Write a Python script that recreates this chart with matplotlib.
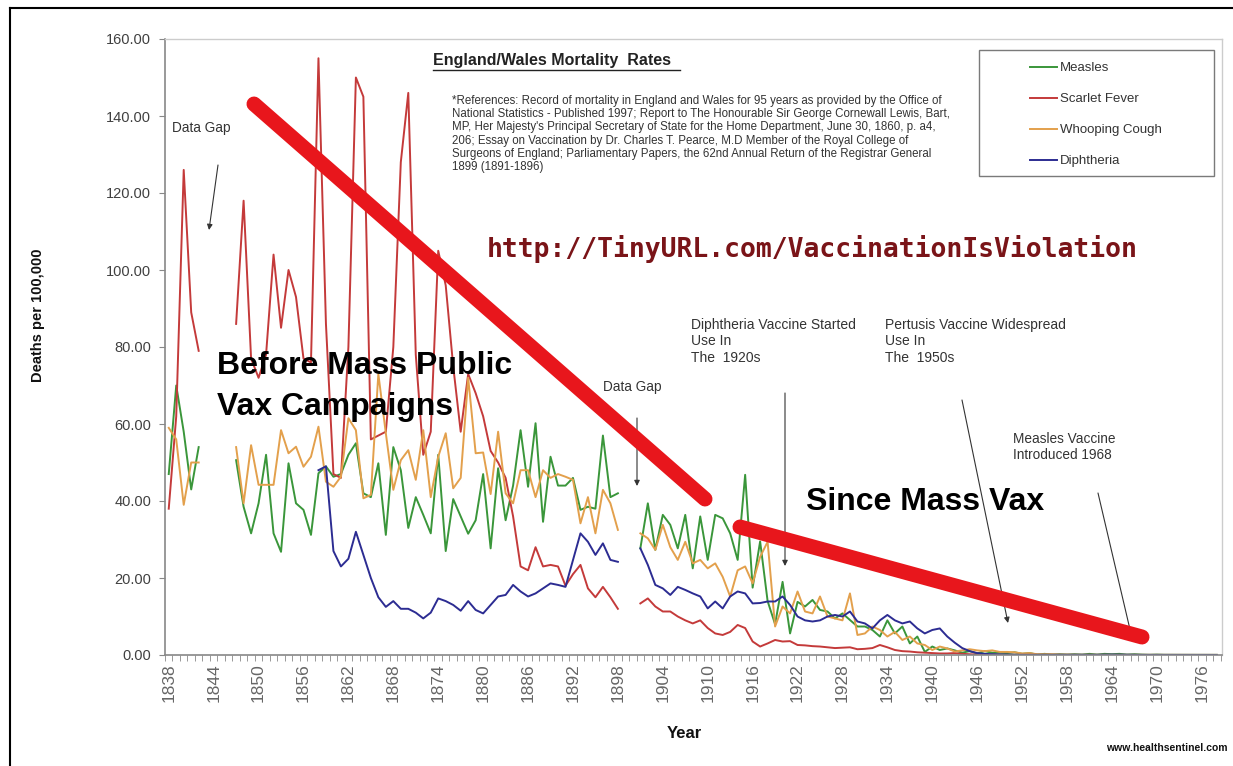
import numpy as np
import matplotlib
matplotlib.use("Agg")
import matplotlib.pyplot as plt
from matplotlib.lines import Line2D
from matplotlib.patches import Rectangle, FancyArrowPatch

plt.rcParams['font.family'] = ['Liberation Sans', 'DejaVu Sans']

nan = np.nan
years = np.arange(1838, 1979)

# ---------------- data (deaths per 100,000) ----------------
# 1838-1842, gap 1843-1846, 1847-1898, gap 1899-1900, 1901-1978
measles_1 = [47, 70, 58, 43, 54]
measles_2 = [50.6, 38.5, 31.6, 39.4, 52, 31.6, 26.8, 49.8, 39.4, 37.7,
             31.2, 47.2, 49, 46.3, 47, 52, 55, 42, 41, 49.8,
             31.2, 54, 48, 33, 41, 36.4, 31.6, 52, 27, 40.5,
             36, 31.5, 35, 47, 27.7, 48.5, 35, 44, 58.4, 43.7,
             60.2, 34.6, 51.5, 44, 44, 46, 37.7, 38.5, 38, 57,
             41, 42]
measles_3 = [27.7, 39.4, 27.3, 36.4, 33.8, 27.7, 36.4, 22.5, 36.0, 24.7,
             36.4, 35.5, 31.6, 24.7, 46.8, 17.5, 29.5, 14.0, 8.0, 19.0,
             5.6, 13.8, 12.6, 14.3, 11.7, 11.3, 9.5, 10.8, 9.1, 7.4,
             7.4, 6.5, 4.8, 9.0, 5.6, 7.4, 3.0, 4.8, 0.8, 2.2,
             1.3, 1.7, 1.2, 0.6, 1.0, 0.4, 1.0, 0.6, 0.6, 0.5,
             0.7, 0.3, 0.5, 0.1, 0.3, 0.1, 0.2, 0.1, 0.2, 0.1,
             0.3, 0.1, 0.3, 0.2, 0.3, 0.1, 0.2, 0.1, 0.05, 0.1,
             0.05, 0.05, 0.05, 0.05, 0.05, 0.03, 0.03, 0.03]

scarlet_1 = [38, 62, 126, 89, 79]
scarlet_2 = [86, 118, 77, 72, 78, 104, 85, 100, 93, 77,
             76, 155, 86, 47, 46, 80, 150, 145, 56, 57,
             58, 80, 128, 146, 78, 52, 58, 105, 96, 75,
             58, 73, 68, 62, 53, 50, 46, 36, 23, 22,
             28, 23, 23.4, 23, 18, 21, 23.4, 17.3, 15, 17.7,
             15, 12]
scarlet_3 = [13.4, 14.7, 12.6, 11.3, 11.3, 10.0, 9.0, 8.2, 9.0, 7.0,
             5.6, 5.2, 6.0, 7.8, 7.0, 3.5, 2.2, 3.0, 3.9, 3.5,
             3.6, 2.6, 2.5, 2.3, 2.2, 2.0, 1.8, 1.9, 2.0, 1.5,
             1.6, 1.8, 2.6, 2.0, 1.3, 1.0, 0.9, 0.7, 0.6, 0.5,
             0.4, 0.4, 0.5, 0.3, 0.2, 0.1, 0.1, 0.1, 0.05, 0.05,
             0.03, 0.03, 0.03, 0.03, 0.03, 0.03, 0.03, 0.03, 0.03, 0.03,
             0.02, 0.02, 0.02, 0.02, 0.02, 0.02, 0.02, 0.02, 0.02, 0.02,
             0.01, 0.01, 0.01, 0.01, 0.01, 0.01, 0.01, 0.01]

whooping_1 = [59, 56, 39, 50, 50]
whooping_2 = [54, 39.4, 54.5, 44.2, 44.2, 44.2, 58.4, 52.4, 54.1, 48.9,
              51.5, 59.3, 45, 43.7, 46.3, 61.5, 58.4, 40.7, 41.6, 73,
              57.6, 42.9, 50.6, 53.2, 45.5, 58.4, 41, 51.5, 57.6, 43.3,
              46, 72, 52.4, 52.6, 41.8, 58, 42, 39.4, 48, 48,
              41, 48, 46, 47, 46.3, 45.5, 34.2, 41, 31.6, 42.9,
              39.4, 32.5]
whooping_3 = [31.6, 30.3, 27.3, 33.8, 28.0, 24.7, 29.4, 23.8, 24.7, 22.5,
              23.8, 20.3, 15.2, 22.0, 23.0, 18.6, 25.5, 29.4, 7.4, 12.6,
              10.8, 16.5, 11.3, 10.8, 15.2, 10.0, 9.5, 9.0, 16.0, 5.2,
              5.6, 7.4, 6.5, 4.8, 6.0, 3.9, 4.8, 3.0, 2.6, 1.3,
              2.2, 1.7, 0.9, 1.2, 1.5, 1.2, 1.0, 1.2, 0.8, 0.8,
              0.7, 0.4, 0.5, 0.2, 0.2, 0.2, 0.1, 0.1, 0.05, 0.05,
              0.05, 0.05, 0.05, 0.05, 0.05, 0.05, 0.05, 0.05, 0.05, 0.05,
              0.03, 0.03, 0.03, 0.03, 0.03, 0.03, 0.03, 0.03]

# diphtheria starts 1858
diph_2 = [48, 49, 27, 23, 25, 32, 26, 20, 15, 12.5,
          14, 12, 12, 11, 9.5, 11, 14.7, 14, 13, 11.5,
          14, 11.7, 10.8, 13, 15.2, 15.6, 18.2, 16.5, 15.2, 16,
          17.3, 18.6, 18.2, 17.7, 24.7, 31.6, 29.4, 26, 29, 24.7,
          24.2]
diph_3 = [27.7, 23.4, 18.2, 17.3, 15.6, 17.7, 16.9, 16.0, 15.2, 12.1,
          13.9, 12.1, 15.2, 16.5, 16.0, 13.4, 13.5, 13.9, 13.9, 15.2,
          13.0, 10.0, 9.0, 8.7, 9.0, 10.0, 10.4, 10.0, 11.3, 8.7,
          8.2, 6.9, 9.0, 10.4, 9.0, 8.2, 8.7, 6.9, 5.6, 6.5,
          6.9, 4.8, 3.2, 1.8, 1.0, 0.5, 0.3, 0.2, 0.15, 0.1,
          0.05, 0.05, 0.05, 0.05, 0.05, 0.05, 0.05, 0.05, 0.05, 0.05,
          0.04, 0.05, 0.08, 0.1, 0.08, 0.05, 0.03, 0.03, 0.03, 0.03,
          0.02, 0.02, 0.02, 0.02, 0.02, 0.02, 0.02, 0.02]

series_names = ["Measles", "Scarlet Fever", "Whooping Cough", "Diphtheria"]
series_colors = ["#3a963a", "#c43a3a", "#e3a04c", "#2c2c92"]

x_labels = list(range(1838, 1977, 6))
y_ticks = list(range(0, 161, 20))


def full(p1, p2, p3):
    return np.array(list(p1) + [nan] * 4 + list(p2) + [nan] * 2 + list(p3), dtype=float)


measles = full(measles_1, measles_2, measles_3)
scarlet = full(scarlet_1, scarlet_2, scarlet_3)
whooping = full(whooping_1, whooping_2, whooping_3)
diph = np.array([nan] * 20 + diph_2 + [nan] * 2 + diph_3, dtype=float)

W, H = 1233, 766


def P(x, y):
    return (x / W, 1 - y / H)


fig = plt.figure(figsize=(W / 100, H / 100), dpi=100)
fig.patch.set_facecolor("white")
ax = fig.add_axes([165 / W, 1 - 655 / H, (1222 - 165) / W, (655 - 39) / H])

handles = []
for vals, name, col in zip([measles, scarlet, whooping, diph], series_names, series_colors):
    h, = ax.plot(years, vals, color=col, lw=1.4, label=name)
    handles.append(h)

ax.set_xlim(1837.6, 1978.7)
ax.set_ylim(0, 160)
ax.set_yticks(y_ticks)
ax.set_yticklabels([f"{v:.2f}" for v in y_ticks])
ax.set_xticks(x_labels)
ax.set_xticklabels([str(v) for v in x_labels], rotation=90)
ax.set_xticks(np.arange(1837.5, 1979, 1), minor=True)
ax.tick_params(axis="x", which="major", length=0, pad=6, labelsize=12.5, colors="#666666")
ax.tick_params(axis="x", which="minor", length=4, color="#888888", direction="out")
ax.tick_params(axis="y", which="major", length=4, color="#888888", pad=6, labelsize=10.5,
               labelcolor="#404040")
for s in ["left", "bottom"]:
    ax.spines[s].set_color("#888888")
    ax.spines[s].set_linewidth(1.2)
for s in ["top", "right"]:
    ax.spines[s].set_color("#cccccc")
    ax.spines[s].set_linewidth(1.0)

# legend
fig.add_artist(Rectangle(P(979, 176), 235 / W, 126 / H, transform=fig.transFigure,
                         fill=False, ec="#7a7a7a", lw=1.0))
leg = ax.legend(handles, series_names, loc="upper left", bbox_to_anchor=P(1030, 62),
                bbox_transform=fig.transFigure, frameon=False, fontsize=9.5,
                handlelength=2.05, handletextpad=0.25, labelspacing=1.42,
                borderpad=0, borderaxespad=0)
for t in leg.get_texts():
    t.set_color("#333333")

# titles & texts
fig.text(*P(433, 61), "England/Wales Mortality  Rates", fontsize=11.5, fontweight="bold",
         va="center", ha="left", color="#222222")
fig.add_artist(Line2D([433 / W, 680 / W], [1 - 70 / H] * 2, transform=fig.transFigure,
                      color="#222222", lw=1.0))
refs = ("*References: Record of mortality in England and Wales for 95 years as provided by the Office of\n"
        "National Statistics - Published 1997; Report to The Honourable Sir George Cornewall Lewis, Bart,\n"
        "MP, Her Majesty's Principal Secretary of State for the Home Department, June 30, 1860, p. a4,\n"
        "206; Essay on Vaccination by Dr. Charles T. Pearce, M.D Member of the Royal College of\n"
        "Surgeons of England; Parliamentary Papers, the 62nd Annual Return of the Registrar General\n"
        "1899 (1891-1896)")
fig.text(*P(452, 95), refs, fontsize=8.3, va="top", ha="left", color="#333333", linespacing=1.13)

gray = "#333333"
fig.text(*P(172, 128), "Data Gap", fontsize=9.8, va="center", ha="left", color=gray)
fig.text(*P(603, 387), "Data Gap", fontsize=9.8, va="center", ha="left", color=gray)
fig.text(*P(691, 318), "Diphtheria Vaccine Started\nUse In\nThe  1920s", fontsize=10,
         va="top", ha="left", color=gray, linespacing=1.22)
fig.text(*P(885, 318), "Pertusis Vaccine Widespread\nUse In\nThe  1950s", fontsize=10,
         va="top", ha="left", color=gray, linespacing=1.22)
fig.text(*P(1013, 432), "Measles Vaccine\nIntroduced 1968", fontsize=9.8,
         va="top", ha="left", color=gray, linespacing=1.2)

arrows = [((218, 165), (209, 230)), ((637, 418), (637, 486)), ((785, 393), (785, 566)),
          ((962, 400), (1008, 623)), ((1098, 493), (1132, 638))]
for (x0, y0), (x1, y1) in arrows:
    fig.add_artist(FancyArrowPatch(P(x0, y0), P(x1, y1),
                   transform=fig.transFigure, arrowstyle="-|>", mutation_scale=8,
                   color="#333333", lw=0.8, shrinkA=0, shrinkB=0))

fig.text(*P(487, 249), "http://TinyURL.com/VaccinationIsViolation", fontsize=19,
         family="DejaVu Sans Mono", fontweight="bold", color="#7a1418", va="center", ha="left")
fig.text(*P(217, 366), "Before Mass Public", fontsize=23, fontweight="bold", va="center",
         ha="left", color="black", zorder=12)
fig.text(*P(217, 407), "Vax Campaigns", fontsize=23, fontweight="bold", va="center",
         ha="left", color="black", zorder=12)
fig.text(*P(806, 502), "Since Mass Vax", fontsize=23, fontweight="bold", va="center",
         ha="left", color="black", zorder=12)

for (x0, y0), (x1, y1) in [((254, 104), (705, 499)), ((740, 527), (1142, 637))]:
    fig.add_artist(Line2D([x0 / W, x1 / W], [1 - y0 / H, 1 - y1 / H], transform=fig.transFigure,
                          lw=10.8, color="#e8161c", solid_capstyle="round", zorder=11))

fig.text(*P(38, 315), "Deaths per 100,000", rotation=90, fontweight="bold", fontsize=10.5,
         va="center", ha="center", color="#111111")
fig.text(*P(684, 733), "Year", fontweight="bold", fontsize=12, va="center", ha="center",
         color="#111111")
fig.text(*P(1228, 748), "www.healthsentinel.com", fontweight="bold", fontsize=7.5,
         va="center", ha="right", color="#111111")

# outer border (top & left)
fig.add_artist(Line2D([10 / W, 1], [1 - 8 / H] * 2, transform=fig.transFigure, color="black", lw=1.5))
fig.add_artist(Line2D([10 / W] * 2, [0, 1 - 8 / H], transform=fig.transFigure, color="black", lw=1.5))

fig.savefig("out.png", dpi=100, facecolor="white")
